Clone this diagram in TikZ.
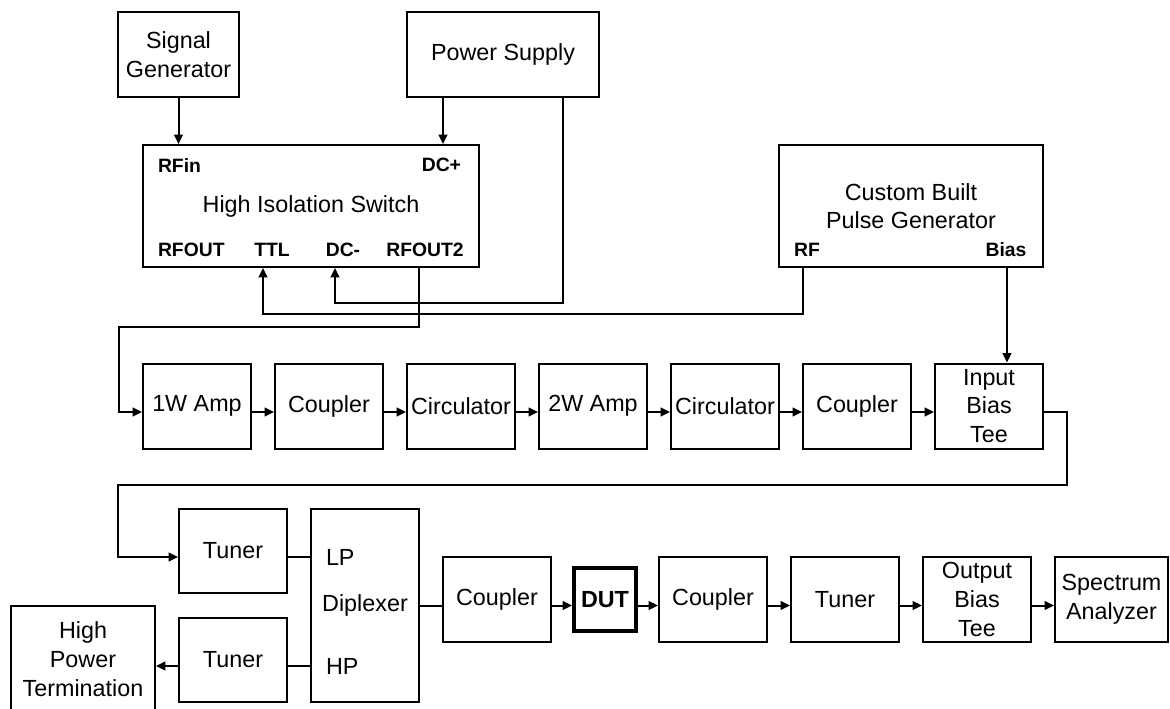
\documentclass[tikz,border=0pt]{standalone}
\usepackage{fontspec}
\setmainfont{Liberation Sans}
\usetikzlibrary{arrows.meta}
\tikzset{
  blk/.style={draw, align=center, inner sep=2pt, font=\fontsize{17.5}{21.5}\selectfont},
  bsize/.style 2 args={minimum width=#1*0.75pt, minimum height=#2*0.75pt},
  lbl/.style={inner sep=0pt, font=\fontsize{17.5}{21.5}\selectfont},
  port/.style={inner sep=0pt, font=\bfseries\fontsize{14.5}{17}\selectfont},
  arr/.style={-{Triangle[length=7pt,width=6.5pt]}},
}
\begin{document}
\begin{tikzpicture}[x=0.75pt,y=-0.75pt,line width=1.5pt]
    \useasboundingbox (0,0) rectangle (1170,708);
    \node[blk,bsize={121}{85}] (sig) at (178.5,54.5) {Signal\\Generator};
    \node[blk,bsize={192}{85}] (psu) at (503,54.5) {Power Supply};
    \node[blk,bsize={336}{122}] (sw) at (311,206) {High Isolation Switch};
    \node[blk,bsize={264}{122}] (pulse) at (911,206) {Custom Built\\Pulse Generator};
    \node[port,anchor=west] (rfin) at (157,165) {RFin};
    \node[port,anchor=east] (dcp) at (462,165) {DC+};
    \node[port,anchor=west] (rfout) at (157,250) {RFOUT};
    \node[port] (ttl) at (272,250) {TTL};
    \node[port] (dcm) at (343,250) {DC-};
    \node[port] (rfout2) at (425,250) {RFOUT2};
    \node[port] (rf) at (807,250) {RF};
    \node[port] (bias) at (1006,250) {Bias};
    \foreach \n/\x/\t in {amp1/197/1W Amp,cpl1/329/Coupler,circ1/461/Circulator,amp2/593/2W Amp,circ2/725/Circulator,cpl2/857/Coupler,ibt/989/{Input\\Bias\\Tee}}
      \node[blk,bsize={108}{85}] (\n) at (\x,406) {\t};
    \node[blk,bsize={108}{84}] (tun1) at (233,551) {Tuner};
    \node[blk,bsize={108}{84}] (tun2) at (233,660) {Tuner};
    \node[blk,bsize={108}{193}] (dip) at (365,605.5) {Diplexer};
    \node[lbl,anchor=west] (lp) at (325,557) {LP};
    \node[lbl,anchor=west] (hp) at (325,666) {HP};
    \node[blk,bsize={144}{106}] (hpt) at (83,659) {High\\Power\\Termination};
    \foreach \n/\x/\t in {cpl3/497/Coupler,cpl4/713/Coupler,tun3/845/Tuner,obt/977/{Output\\Bias\\Tee}}
      \node[blk,bsize={108}{85}] (\n) at (\x,599.5) {\t};
    \node[blk,line width=3pt,bsize={62}{63},font=\bfseries\fontsize{17.5}{21.5}\selectfont] (dut) at (605,599.5) {DUT};
    \node[blk,bsize={113}{85}] (sa) at (1111.5,599.5) {Spectrum\\Analyzer};
    \coordinate (xdcp) at (443,0);
    \coordinate (xttl) at (263,0);
    \coordinate (xdcm) at (335,0);
    \coordinate (xout) at (419,0);
    \coordinate (xbias) at (1007,0);
    \coordinate (dcturn) at (563,303);
    \coordinate (ttlturn) at (803,314);
    \coordinate (inturn) at (119,327);
    \coordinate (loopr) at (1067,485);
    \coordinate (loopl) at (118,485);
    \draw[arr] (sig.south) -- (sig.south |- sw.north);
    \draw[arr] (psu.south -| xdcp) -- (sw.north -| xdcp);
    \draw[arr] (psu.south -| dcturn) -- (dcturn) -| (sw.south -| xdcm);
    \draw[arr] (pulse.south -| ttlturn) -- (ttlturn) -| (sw.south -| xttl);
    \draw[arr] (sw.south -| xout) |- (inturn) |- ([yshift=-4.5pt]amp1.west);
    \draw[arr] (pulse.south -| xbias) -- (ibt.north -| xbias);
    \draw[arr] ([yshift=-4.5pt]ibt.east) -| (loopr) -- (loopl) |- ([yshift=-4.5pt]tun1.west);
    \foreach \a/\b in {amp1/cpl1,cpl1/circ1,circ1/amp2,amp2/circ2,circ2/cpl2,cpl2/ibt,cpl3/dut,dut/cpl4,cpl4/tun3,tun3/obt,obt/sa}
      \draw[arr] ([yshift=-4.5pt]\a.east) -- ([yshift=-4.5pt]\b.west);
    \draw ([yshift=-4.5pt]tun1.east) -- ([yshift=-4.5pt]tun1.east -| dip.west);
    \draw ([yshift=-4.5pt]tun2.east) -- ([yshift=-4.5pt]tun2.east -| dip.west);
    \draw ([yshift=-4.5pt]cpl3.west -| dip.east) -- ([yshift=-4.5pt]cpl3.west);
    \draw[arr] ([yshift=-4.5pt]tun2.west) -- ([yshift=-4.5pt]tun2.west -| hpt.east);
\end{tikzpicture}
\end{document}
